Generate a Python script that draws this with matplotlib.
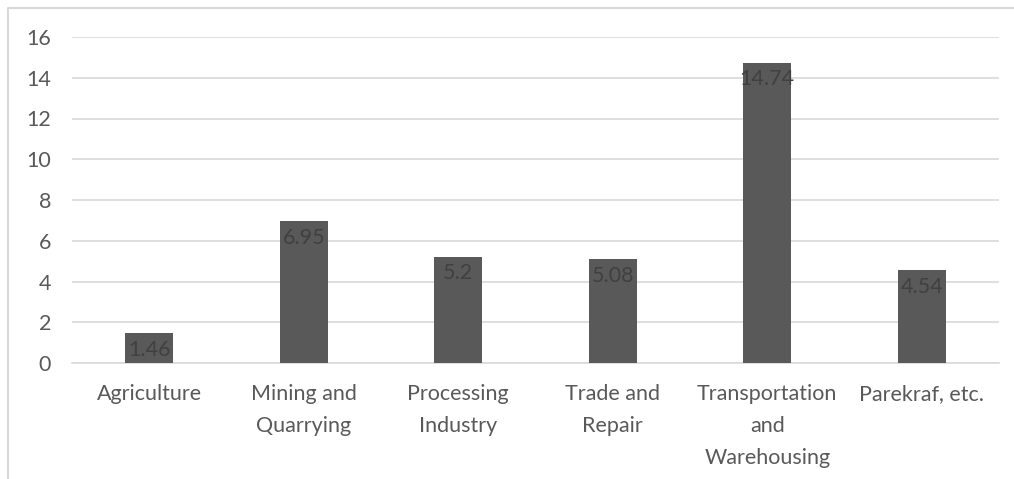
import matplotlib
matplotlib.use("Agg")
import matplotlib.pyplot as plt
from matplotlib.lines import Line2D

categories = ["Agriculture", "Mining and\nQuarrying", "Processing\nIndustry",
              "Trade and\nRepair", "Transportation\nand\nWarehousing", "Parekraf, etc."]
values = [1.46, 6.95, 5.2, 5.08, 14.74, 4.54]
value_labels = ["1.46", "6.95", "5.2", "5.08", "14.74", "4.54"]
yticks = [0, 2, 4, 6, 8, 10, 12, 14, 16]

plt.rcParams['font.family'] = ['Lato', 'DejaVu Sans']

W, H = 1014, 479
fig = plt.figure(figsize=(W / 100, H / 100), dpi=100)
ax = fig.add_axes([72 / W, 1 - 363 / H, (999 - 72) / W, (363 - 37) / H])

x = list(range(len(categories)))
ax.bar(x, values, width=0.31, color="#595959", zorder=3)
ax.set_xlim(-0.5, len(categories) - 0.5)
ax.set_ylim(0, 16)
ax.set_yticks(yticks)
ax.set_yticklabels([str(t) for t in yticks])
ax.set_xticks(x)
ax.set_xticklabels(categories, linespacing=1.75)

ax.grid(axis='y', color="#d9d9d9", linewidth=1.2, zorder=0)
for s in ["top", "right", "left"]:
    ax.spines[s].set_visible(False)
ax.spines["bottom"].set_color("#d9d9d9")
ax.spines["bottom"].set_linewidth(1.2)
ax.tick_params(axis='both', length=0, colors="#595959", labelsize=15.5)
ax.tick_params(axis='y', pad=15)
ax.tick_params(axis='x', pad=15)

for xi, v, lab in zip(x, values, value_labels):
    ax.annotate(lab, (xi, v), xytext=(0, -4.5), textcoords="offset points",
                ha="center", va="top", color="#404040", fontsize=15.5, zorder=4)

# chart border (left and top visible)
fig.add_artist(Line2D([8 / W, 8 / W, 1.0], [0.0, 1 - 8 / H, 1 - 8 / H],
                      transform=fig.transFigure, color="#d9d9d9", linewidth=1.5))

fig.savefig("out.png", dpi=100)
